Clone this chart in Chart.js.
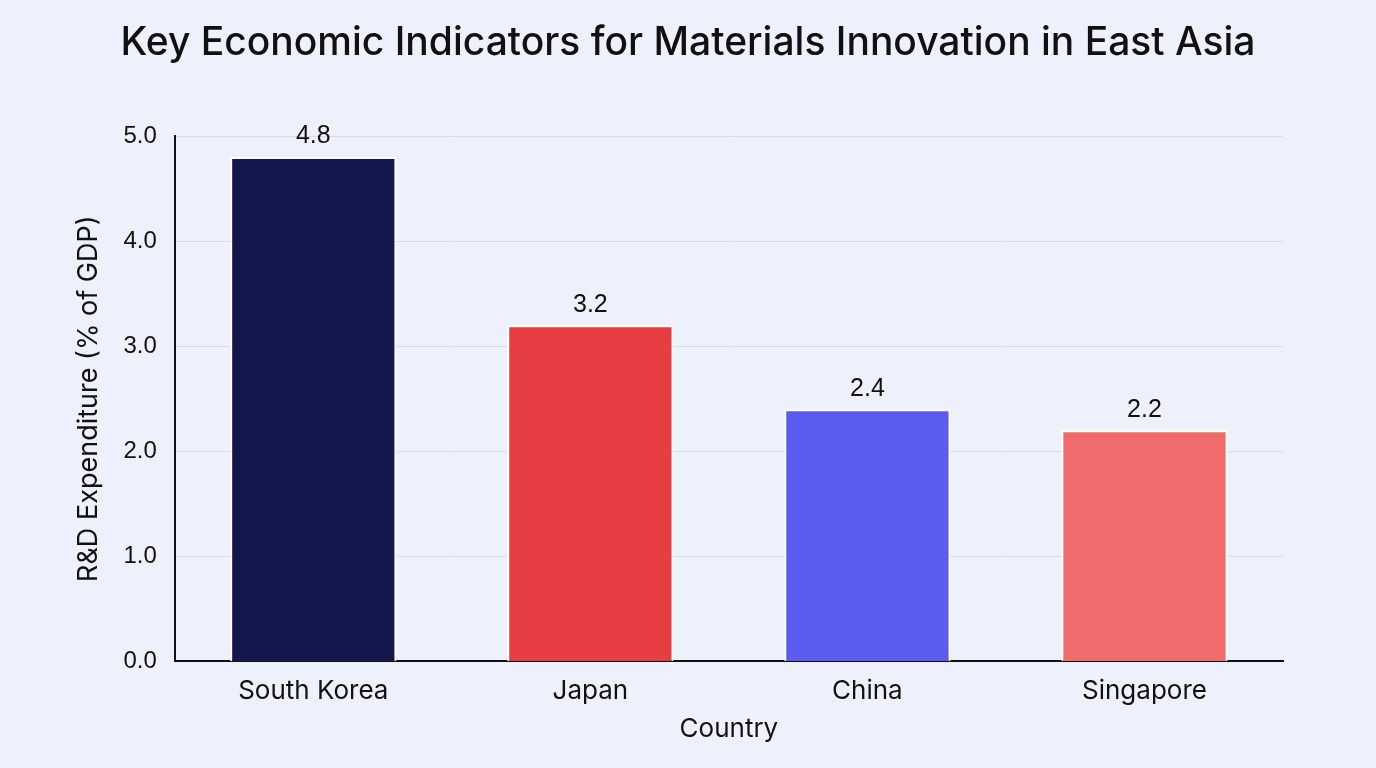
<!DOCTYPE html>
<html>
<head>
<meta charset="utf-8">
<script src="https://cdn.jsdelivr.net/npm/chart.js@4.4.0/dist/chart.umd.min.js"></script>
<style>
html,body{margin:0;padding:0;background:#eef1fb;}
#wrap{width:1376px;height:768px;position:relative;}
</style>
</head>
<body>
<div id="wrap"><canvas id="c" width="1376" height="768"></canvas></div>
<script>
const titleText = 'Key Economic Indicators for Materials Innovation in East Asia';
const categories = ["South Korea", "Japan", "China", "Singapore"];
const rdValues = [4.8, 3.2, 2.4, 2.2];
const barColors = ["#14164e", "#e63e42", "#5b5bf0", "#f06b6b"];
const yTicks = [0, 1, 2, 3, 4, 5];

const valueLabels = {
  id: 'valueLabels',
  afterDatasetsDraw(chart) {
    const ctx = chart.ctx;
    const meta = chart.getDatasetMeta(0);
    ctx.save();
    ctx.font = '25px "Liberation Sans", Arial, sans-serif';
    ctx.fillStyle = '#111111';
    ctx.textAlign = 'center';
    ctx.textBaseline = 'bottom';
    meta.data.forEach((bar, i) => {
      ctx.fillText(rdValues[i].toFixed(1), bar.x, bar.y - 8);
    });
    ctx.restore();
  }
};

const centeredTitle = {
  id: 'centeredTitle',
  afterDraw(chart) {
    const ctx = chart.ctx;
    ctx.save();
    ctx.font = '500 39px Inter, sans-serif';
    ctx.fillStyle = '#111111';
    ctx.textAlign = 'center';
    ctx.textBaseline = 'middle';
    ctx.fillText(titleText, chart.width / 2, 43);
    ctx.restore();
  }
};

new Chart(document.getElementById('c'), {
  type: 'bar',
  data: {
    labels: categories,
    datasets: [{
      data: rdValues,
      backgroundColor: barColors,
      borderColor: '#ffffff',
      borderWidth: 2,
      categoryPercentage: 0.6,
      barPercentage: 1.0
    }]
  },
  options: {
    responsive: false,
    animation: false,
    layout: { padding: { left: 69, right: 93, top: 136, bottom: 26 } },
    plugins: {
      legend: { display: false },
      tooltip: { enabled: false },
      title: { display: false }
    },
    scales: {
      x: {
        grid: { display: false, drawTicks: false },
        border: { display: true, color: '#111111', width: 2 },
        ticks: { color: '#111111', font: { family: 'Inter', size: 26, lineHeight: 0.6 }, padding: 22 },
        title: { display: true, text: 'Country', color: '#111111', font: { family: 'Inter', size: 26, lineHeight: 1 }, padding: { top: -5, bottom: 0 } }
      },
      y: {
        min: 0, max: 5,
        afterBuildTicks(axis) { axis.ticks = yTicks.map(v => ({ value: v })); },
        grid: { color: '#d9dce6', lineWidth: 1, drawTicks: false },
        border: { display: true, color: '#111111', width: 2 },
        ticks: { color: '#111111', font: { family: '"Liberation Sans", Arial', size: 24 }, padding: 18,
                 callback: v => Number(v).toFixed(1) },
        title: { display: true, text: 'R&D Expenditure (% of GDP)', color: '#111111', font: { family: 'Inter', size: 27 }, padding: { top: 4, bottom: 0 } }
      }
    }
  },
  plugins: [valueLabels, centeredTitle]
});
</script>
</body>
</html>
